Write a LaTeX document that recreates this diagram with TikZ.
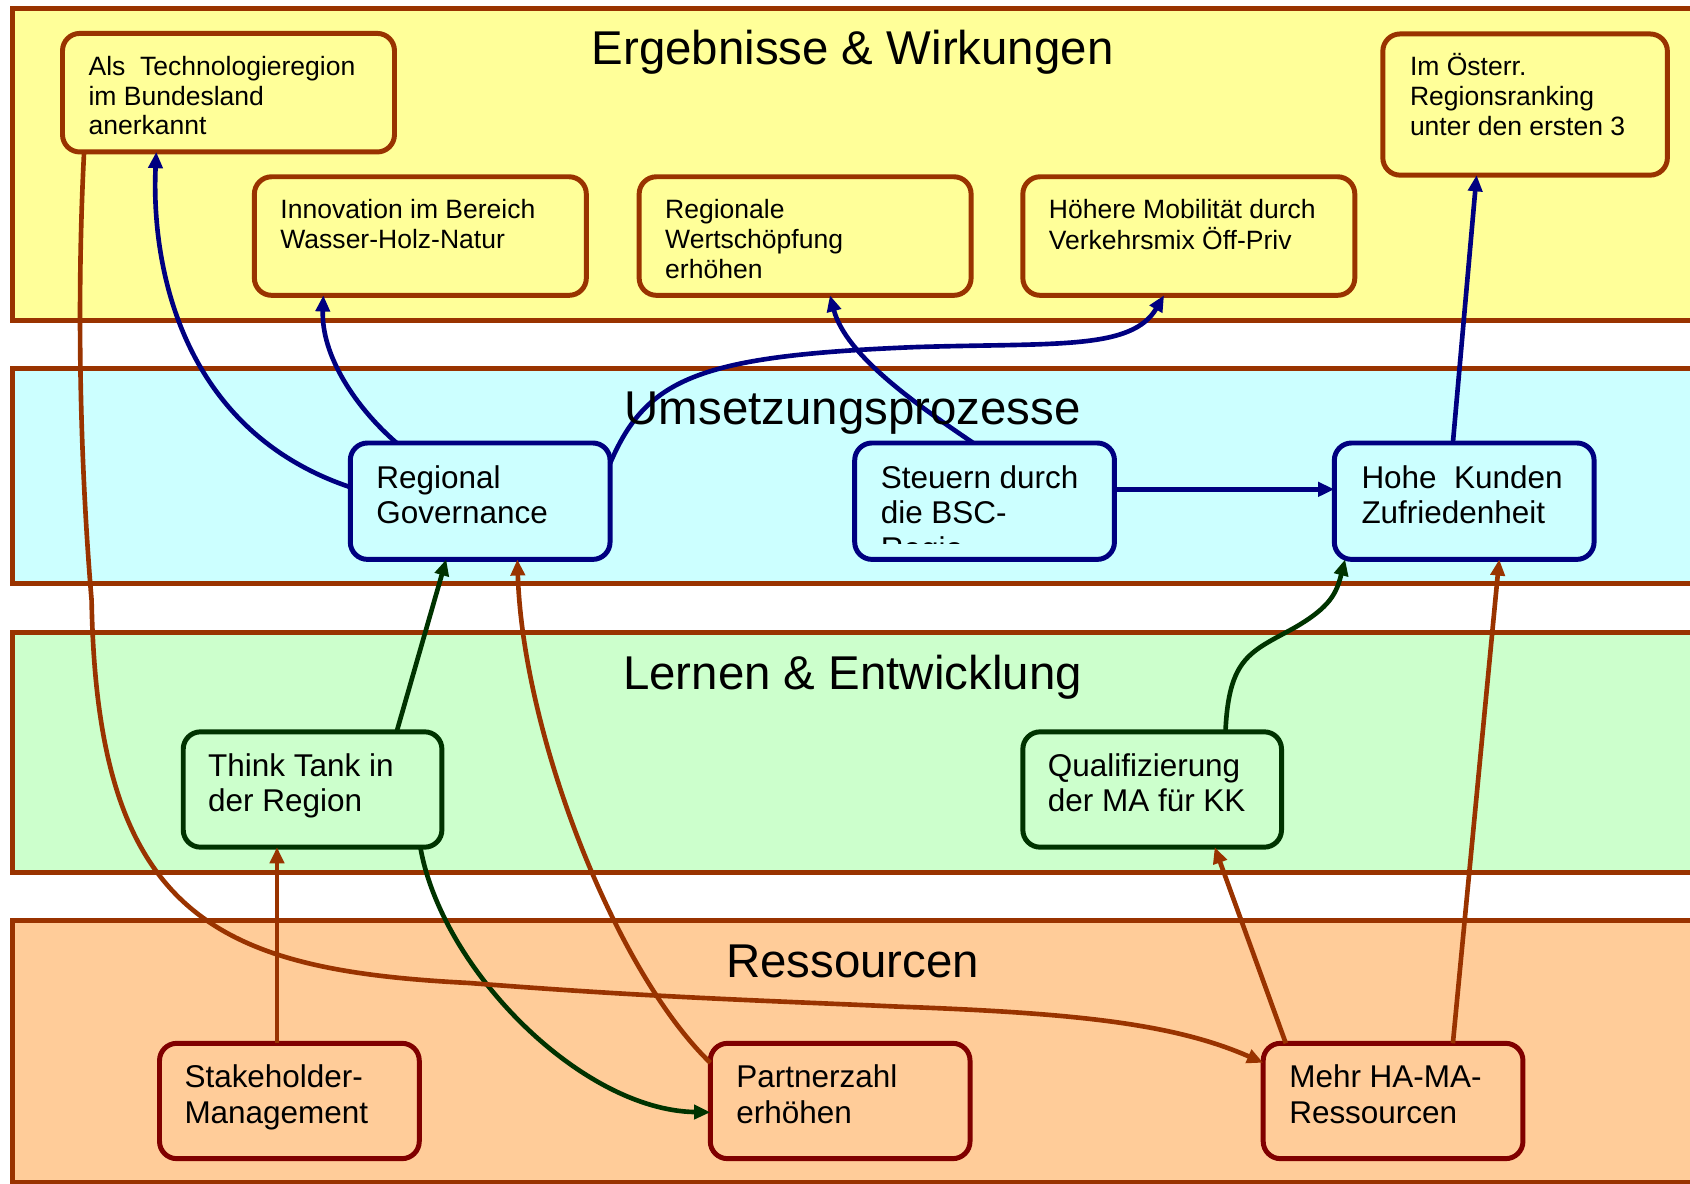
\documentclass[tikz,border=0pt]{standalone}
\usepackage{fontspec}
\setmainfont{Liberation Sans}
\usetikzlibrary{arrows.meta}

\definecolor{bandyellow}{HTML}{FFFF99}
\definecolor{bandcyan}{HTML}{CCFFFF}
\definecolor{bandgreen}{HTML}{CCFFCC}
\definecolor{bandorange}{HTML}{FFCC99}
\definecolor{rust}{HTML}{993300}
\definecolor{navyline}{HTML}{000080}
\definecolor{pine}{HTML}{003300}
\definecolor{maroonline}{HTML}{800000}

% multi-line card text, baseline on the first line
\newcommand\cardlines[1]{\begin{tabular}[t]{@{}l@{}}#1\end{tabular}}

\begin{document}
\begin{tikzpicture}[x=1pt,y=-1pt,
  band/.style={draw=rust, line width=4.6pt},
  card/.style={rounded corners=16pt, line width=4.6pt, inner sep=0pt, outer sep=0pt, anchor=north west},
  erg/.style={card, draw=rust, fill=bandyellow, minimum width=308pt, minimum height=110pt},
  ups/.style={card, draw=navyline, fill=bandcyan, minimum width=241pt, minimum height=108pt},
  lern/.style={card, draw=pine, fill=bandgreen, minimum width=240pt, minimum height=107pt},
  res/.style={card, draw=maroonline, fill=bandorange, minimum width=241pt, minimum height=107pt},
  smalltext/.style={anchor=base west, inner sep=0pt, font=\fontsize{24.6}{27.5}\selectfont},
  bigtext/.style={anchor=base west, inner sep=0pt, font=\fontsize{29.2}{33}\selectfont},
  bandtitle/.style={anchor=base, inner sep=0pt, font=\fontsize{44}{50}\selectfont},
  link/.style={line width=4.3pt, -{Triangle[length=15pt,width=13pt]}},
]
\useasboundingbox (0,0) rectangle (1568,1098);

% ---- layer bands ----
\draw[band, fill=bandyellow] (11.7,7.7) rectangle (1620,297);
\draw[band, fill=bandcyan]   (11.7,341.7) rectangle (1620,541.5);
\draw[band, fill=bandgreen]  (11.7,587) rectangle (1620,809.5);
\draw[band, fill=bandorange] (11.7,854) rectangle (1620,1096.7);

% ---- Ergebnisse & Wirkungen ----
\node[erg] (ergA) at (58,31) {};
\node[erg] (ergB) at (236,164) {};
\node[erg] (ergC) at (593,164) {};
\node[erg] (ergD) at (949,164) {};
\node[erg, minimum width=264pt, minimum height=131pt] (ergE) at (1283,31.5) {};

% ---- Umsetzungsprozesse ----
\node[ups] (rg) at (325,411) {};
\node[ups] (st) at (793,411) {};
\node[ups] (hk) at (1238,411) {};

% ---- Lernen & Entwicklung ----
\node[lern] (tt) at (170,679) {};
\node[lern] (qu) at (949,679) {};

% ---- Ressourcen ----
\node[res] (sk) at (148,968) {};
\node[res] (pz) at (659,968) {};
\node[res] (mh) at (1172,968) {};

% ---- connectors ----
\coordinate (ridge) at (850,322);
\coordinate (qbend) at (1200,583);
\coordinate (bendA) at (85,557);
\coordinate (bendB) at (435,912);
\coordinate (bendC) at (835,934);

\draw[link, draw=navyline] ([yshift=-41pt]rg.north west) .. controls (170,400) and (140,250) .. ([xshift=87pt]ergA.south west);
\draw[link, draw=navyline] ([xshift=43pt]rg.north west) .. controls (330,378) and (298,330) .. ([xshift=64pt]ergB.south west);
\draw[link, draw=navyline] ([yshift=-19pt]rg.north east) .. controls (600,350) and (650,330) .. (ridge)
  .. controls (980,318) and (1050,325) .. ([xshift=131pt]ergD.south west);
\draw[link, draw=navyline] ([xshift=110pt]st.north west) .. controls (850,375) and (785,330) .. ([xshift=177pt]ergC.south west);
\draw[link, draw=navyline] ([yshift=-43pt]st.north east) -- ([yshift=-43pt]hk.north west);
\draw[link, draw=navyline] ([xshift=110pt]hk.north west) -- ([xshift=87pt]ergE.south west);

\draw[link, draw=pine] ([xshift=198pt]tt.north west) -- ([xshift=89pt]rg.south west);
\draw[link, draw=pine] ([xshift=-20pt]tt.south east) .. controls (410,900) and (540,1030) .. ([yshift=-64pt]pz.north west);
\draw[link, draw=pine] ([xshift=188pt]qu.north west) .. controls (1140,610) and (1160,605) .. (qbend)
  .. controls (1235,563) and (1240,550) .. ([xshift=10pt]hk.south west);

\draw[link, draw=rust] ([xshift=109pt]sk.north west) -- ([xshift=87pt]tt.south west);
\draw[link, draw=rust] ([yshift=-18pt]pz.north west) .. controls (570,900) and (485,680) .. ([xshift=155pt]rg.south west);
\draw[link, draw=rust] ([xshift=20pt]ergA.south west) .. controls (70,300) and (76,450) .. (bendA)
  .. controls (90,850) and (200,900) .. (bendB)
  .. controls (600,925) and (700,928) .. (bendC)
  .. controls (1000,940) and (1090,950) .. ([yshift=-18pt]mh.north west);
\draw[link, draw=rust] ([xshift=21pt]mh.north west) -- ([xshift=178pt]qu.south west);
\draw[link, draw=rust] ([xshift=176pt]mh.north west) -- ([xshift=153pt]hk.south west);

% ---- card texts ----
\node[smalltext] (ergAtxt) at ([xshift=24pt,yshift=-39pt]ergA.north west) {\cardlines{Als~~Technologieregion\\im Bundesland\\anerkannt}};
\node[smalltext] (ergBtxt) at ([xshift=24pt,yshift=-39pt]ergB.north west) {\cardlines{Innovation im Bereich\\Wasser-Holz-Natur}};
\node[smalltext] (ergCtxt) at ([xshift=24pt,yshift=-39pt]ergC.north west) {\cardlines{Regionale\\Wertschöpfung\\erhöhen}};
\node[smalltext] (ergDtxt) at ([xshift=24pt,yshift=-39pt]ergD.north west) {\cardlines{Höhere Mobilität durch\\Verkehrsmix Öff-Priv}};
\node[smalltext] (ergEtxt) at ([xshift=25pt,yshift=-39pt]ergE.north west) {\cardlines{Im Österr.\\Regionsranking\\unter den ersten 3}};

\node[bigtext] (rgtxt) at ([xshift=24pt,yshift=-42pt]rg.north west) {\cardlines{Regional\\Governance}};
\begin{scope}
  \clip ([xshift=4pt]st.north west) rectangle ([xshift=-4pt,yshift=15pt]st.south east);
  \node[bigtext] (sttxt) at ([xshift=24pt,yshift=-42pt]st.north west) {\cardlines{Steuern durch\\die BSC-\\Regio}};
\end{scope}
\node[bigtext] (hktxt) at ([xshift=25pt,yshift=-42pt]hk.north west) {\cardlines{Hohe~~Kunden\\Zufriedenheit}};

\node[bigtext] (tttxt) at ([xshift=23pt,yshift=-41pt]tt.north west) {\cardlines{Think Tank in\\der Region}};
\node[bigtext] (qutxt) at ([xshift=23pt,yshift=-41pt]qu.north west) {\cardlines{Qualifizierung\\der MA für KK}};

\node[bigtext] (sktxt) at ([xshift=23pt,yshift=-41pt]sk.north west) {\cardlines{Stakeholder-\\Management}};
\node[bigtext] (pztxt) at ([xshift=24pt,yshift=-41pt]pz.north west) {\cardlines{Partnerzahl\\erhöhen}};
\node[bigtext] (mhtxt) at ([xshift=24pt,yshift=-41pt]mh.north west) {\cardlines{Mehr HA-MA-\\Ressourcen}};

% ---- band titles ----
\node[bandtitle] (tErg) at (791,60.3) {Ergebnisse \& Wirkungen};
\node[bandtitle] (tUms) at (791,394.3) {Umsetzungsprozesse};
\node[bandtitle] (tLern) at (791,639.4) {Lernen \& Entwicklung};
\node[bandtitle] (tRes) at (791,906.5) {Ressourcen};
\end{tikzpicture}
\end{document}
